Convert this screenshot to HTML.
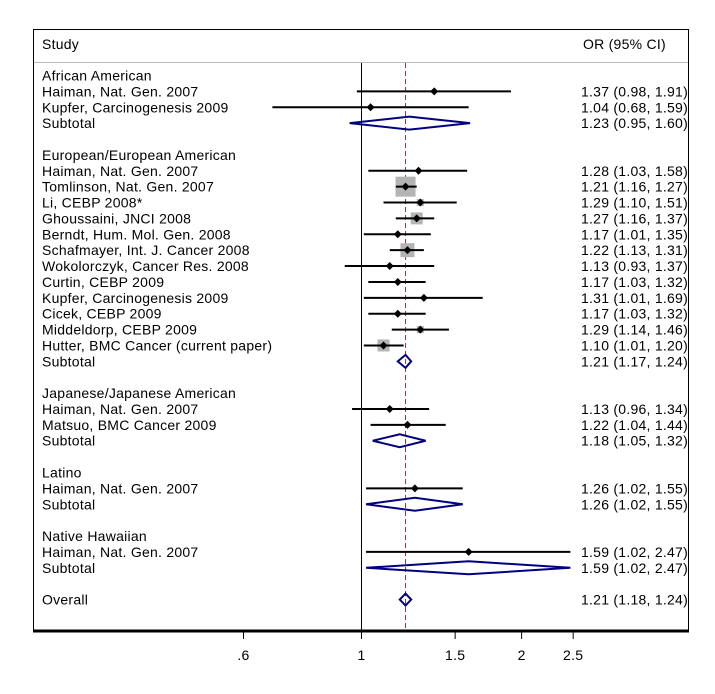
<!DOCTYPE html>
<html><head><meta charset="utf-8"><style>
body{margin:0;background:#fff;}
svg{display:block;font-family:"Liberation Sans",Arial,sans-serif;font-size:14px;letter-spacing:0.25px;}
</style></head><body>
<svg id="chart" width="715" height="694">
<rect x="33.5" y="29.5" width="655" height="602" fill="none" stroke="#000" stroke-width="1"/>
<line x1="34" y1="62.5" x2="688" y2="62.5" stroke="#bbb"/>
<text x="42" y="49">Study</text>
<text x="583" y="49">OR (95% CI)</text>
<line x1="33" y1="631" x2="689" y2="631" stroke="#000" stroke-width="3"/>
<g id="marks"></g>
</svg>
<script>
const labels=["African American","Haiman, Nat. Gen. 2007","Kupfer, Carcinogenesis 2009","Subtotal","",
"European/European American","Haiman, Nat. Gen. 2007","Tomlinson, Nat. Gen. 2007","Li, CEBP 2008*","Ghoussaini, JNCI 2008","Berndt, Hum. Mol. Gen. 2008","Schafmayer, Int. J. Cancer 2008","Wokolorczyk, Cancer Res. 2008","Curtin, CEBP 2009","Kupfer, Carcinogenesis 2009","Cicek, CEBP 2009","Middeldorp, CEBP 2009","Hutter, BMC Cancer (current paper)","Subtotal","",
"Japanese/Japanese American","Haiman, Nat. Gen. 2007","Matsuo, BMC Cancer 2009","Subtotal","",
"Latino","Haiman, Nat. Gen. 2007","Subtotal","",
"Native Hawaiian","Haiman, Nat. Gen. 2007","Subtotal","","Overall"];
const kinds=["h","s","s","d","","h","s","s","s","s","s","s","s","s","s","s","s","s","d","","h","s","s","d","","h","s","d","","h","s","d","","d"];
const orv=[null,1.37,1.04,1.23,null,null,1.28,1.21,1.29,1.27,1.17,1.22,1.13,1.17,1.31,1.17,1.29,1.10,1.21,null,null,1.13,1.22,1.18,null,null,1.26,1.26,null,null,1.59,1.59,null,1.21];
const lo=[null,0.98,0.68,0.95,null,null,1.03,1.16,1.10,1.16,1.01,1.13,0.93,1.03,1.01,1.03,1.14,1.01,1.17,null,null,0.96,1.04,1.05,null,null,1.02,1.02,null,null,1.02,1.02,null,1.18];
const hi=[null,1.91,1.59,1.60,null,null,1.58,1.27,1.51,1.37,1.35,1.31,1.37,1.32,1.69,1.32,1.46,1.20,1.24,null,null,1.34,1.44,1.32,null,null,1.55,1.55,null,null,2.47,2.47,null,1.24];
const weights=[0,0,0,0,0,0,0,20,7,12,0,14,0,0,0,0,7,12,0,0,0,0,0,0,0,0,0,0,0,0,0,0,0,1];
const ticks=[0.6,1,1.5,2,2.5];
const tickLabels=[".6","1","1.5","2","2.5"];
const overall=1.21;
const NS="http://www.w3.org/2000/svg";
const g=document.getElementById('marks');
const svg=document.getElementById('chart');
const X=v=>361.5+231*Math.log(v);
const Y=i=>75.5+i*15.88;
const fmt=v=>v.toFixed(2);
function mk(t,a,p){const e=document.createElementNS(NS,t);for(const k in a)e.setAttribute(k,a[k]);(p||g).appendChild(e);return e;}
let e=mk('line',{x1:X(1),y1:63,x2:X(1),y2:630,stroke:'#000'});


e=mk('line',{x1:X(overall),y1:63,x2:X(overall),y2:630,stroke:'#8b3a3a','stroke-dasharray':'5,3'});


ticks.forEach((t,i)=>{
 const l=mk('line',{x1:X(t),y1:632,x2:X(t),y2:639,stroke:'#000'},svg);
 
 
 const tx=mk('text',{x:X(t),y:660,'text-anchor':'middle'},svg);tx.textContent=tickLabels[i];
 
 
});
labels.forEach((lab,i)=>{
 const y=Y(i);
 if(lab){const t=mk('text',{x:42,y:y+5},svg);t.textContent=lab;
  
  }
 if(orv[i]==null)return;
 const v=mk('text',{x:688,y:y+5,'text-anchor':'end'},svg);
 v.textContent=fmt(orv[i])+" ("+fmt(lo[i])+", "+fmt(hi[i])+")";
 
 
 if(kinds[i]==='s'){
  const w=weights[i];
  if(w>0){const b=mk('rect',{x:X(orv[i])-w/2,y:y-w/2,width:w,height:w,fill:'#b4b4b4'});
   
   }
  const l=mk('line',{x1:X(lo[i]),y1:y,x2:X(hi[i]),y2:y,stroke:'#000','stroke-width':2});
  
  
  const c=X(orv[i]);
  const d=mk('polygon',{points:`${c-4},${y} ${c},${y-4} ${c+4},${y} ${c},${y+4}`,fill:'#000'});
  
  
 } else {
  const a=X(lo[i]),c=X(orv[i]),b=X(hi[i]);
  const h=i===33?6:6.5;
  const d=mk('polygon',{points:`${a},${y} ${c},${y-h} ${b},${y} ${c},${y+h}`,fill:'none',stroke:'#000080','stroke-width':2});
  
  
 }
});
</script>
</body></html>
